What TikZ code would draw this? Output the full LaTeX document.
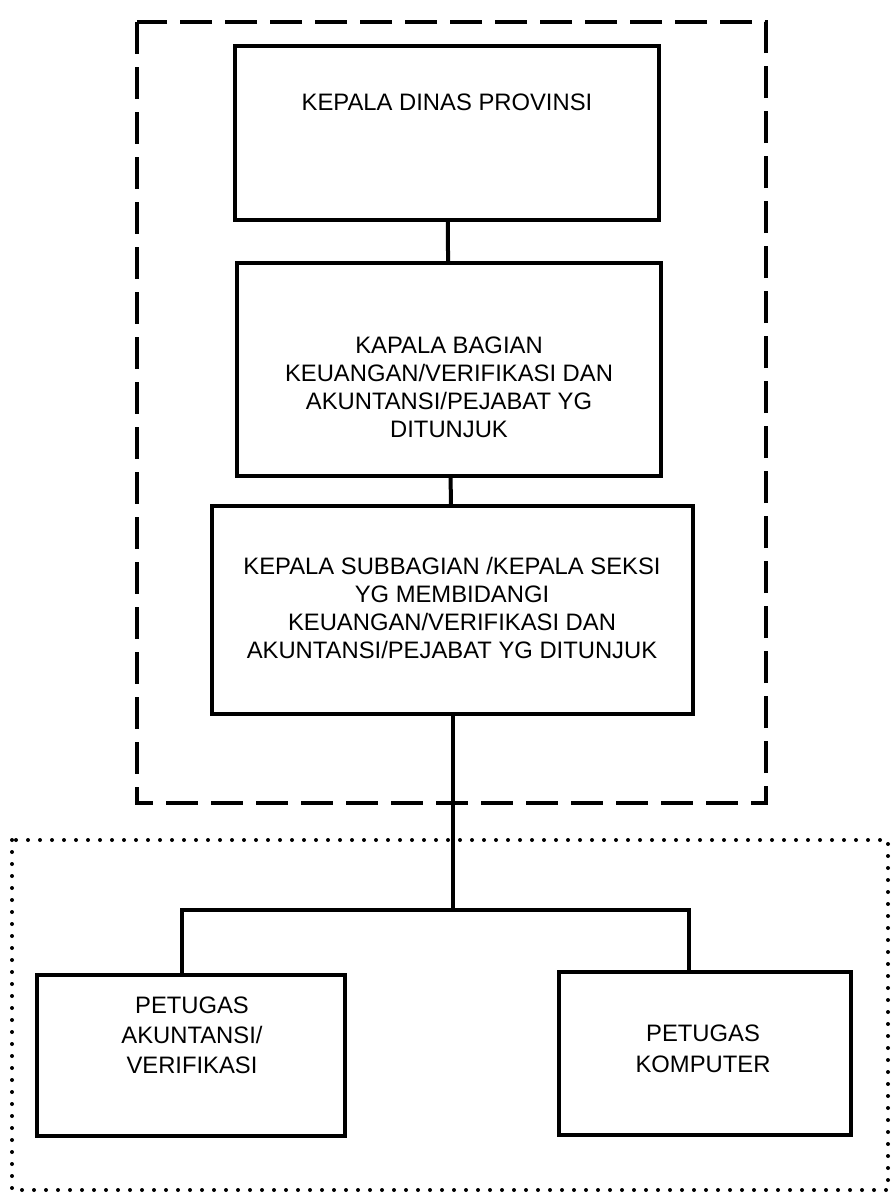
\documentclass[tikz,border=0pt]{standalone}
\usepackage{fontspec}
\setmainfont{Liberation Sans}
\tikzset{
  kotak/.style={draw,line width=2pt,align=center,inner sep=0pt},
  teks/.style={align=center,inner sep=0pt},
  garis/.style={line width=2pt}
}
\begin{document}
\begin{tikzpicture}[x=0.5pt,y=-0.5pt,font=\fontsize{11.9}{14}\selectfont]
        \useasboundingbox (0,0) rectangle (893,1195);
        % Kotak putus-putus
        \draw[line width=1.6pt,dash pattern=on 16pt off 6.5pt] (137,22) rectangle (766,803);
        % Kotak titik-titik
        \draw[line width=2pt,line cap=round,dash pattern=on 0pt off 6pt] (12,840) rectangle (888,1190);

        % Kepala dinas
        \node[kotak,minimum width=212pt,minimum height=87pt] (kadis) at (447,133) {};
        \node[teks] (tkadis) at (447,102.5) {KEPALA DINAS PROVINSI};

        % Kepala bagian
        \node[kotak,minimum width=212pt,minimum height=106.5pt] (kabag) at (449,369.5) {};
        \node[teks] (tkabag) at (449,387.5) {KAPALA BAGIAN\\KEUANGAN/VERIFIKASI DAN\\AKUNTANSI/PEJABAT YG\\DITUNJUK};

        % Kepala subbagian
        \node[kotak,minimum width=240.5pt,minimum height=104pt] (kasubag) at (452.5,610) {};
        \node[teks] (tkasubag) at (452,607.5) {KEPALA SUBBAGIAN /KEPALA SEKSI\\YG MEMBIDANGI\\KEUANGAN/VERIFIKASI DAN\\AKUNTANSI/PEJABAT YG DITUNJUK};

        % Petugas
        \node[kotak,minimum width=154pt,minimum height=80.5pt] (akun) at (191,1055.5) {};
        \node[teks,font=\fontsize{11.9}{15}\selectfont] (takun) at (192,1035) {PETUGAS\\AKUNTANSI/\\VERIFIKASI};
        \node[kotak,minimum width=146pt,minimum height=81.5pt] (komp) at (705,1053.5) {};
        \node[teks,font=\fontsize{11.9}{15.5}\selectfont] (tkomp) at (703,1049) {PETUGAS\\KOMPUTER};

        % Garis penghubung
        \coordinate (simpul) at (453,910);
        \coordinate (kiri) at (182,910);
        \coordinate (kanan) at (689,910);
        \draw[garis] (kadis) -- (kabag);
        \draw[garis] (kabag) -- (kasubag);
        \draw[garis] (kasubag.south -| simpul) -- (simpul);
        \draw[garis] (kiri |- akun.north) -- (kiri) -- (kanan) -- (kanan |- komp.north);
\end{tikzpicture}
\end{document}
